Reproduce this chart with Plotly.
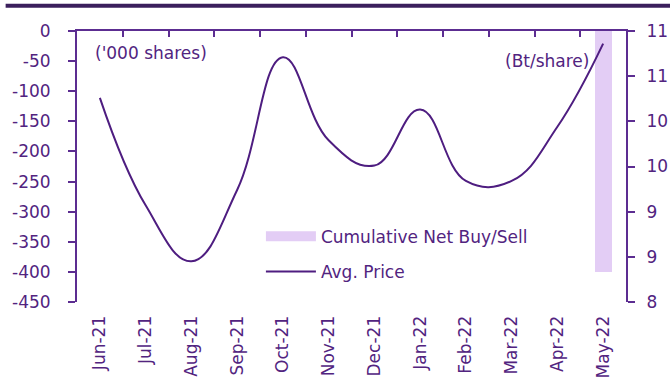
import plotly.graph_objects as go

months = ["Jun-21", "Jul-21", "Aug-21", "Sep-21", "Oct-21", "Nov-21",
          "Dec-21", "Jan-22", "Feb-22", "Mar-22", "Apr-22", "May-22"]
net_buy_sell = [None, None, None, None, None, None,
                None, None, None, None, None, -400]
avg_price = [10.26, 9.07, 8.45, 9.24, 10.71, 9.79,
             9.51, 10.13, 9.34, 9.34, 9.94, 10.86]
left_ticks = [0, -50, -100, -150, -200, -250, -300, -350, -400, -450]
left_labels = ["0", "-50", "-100", "-150", "-200", "-250", "-300",
               "-350", "-400", "-450"]

TXT = "#52247f"
AXC = "#5c2d91"
LINE = "#4e1d80"
BAR = "#e3cdf5"
FONT = "DejaVu Sans"
FS = 17

fig = go.Figure()

# legend swatch for the bar series; also carries the top category axis
fig.add_trace(go.Scatter(
    x=[None], y=[None], xaxis="x2", yaxis="y", mode="lines",
    line=dict(color=BAR, width=10), name="Cumulative Net Buy/Sell",
    legendgroup="a",
))
fig.add_trace(go.Bar(
    x=months, y=net_buy_sell, xaxis="x", yaxis="y",
    marker=dict(color=BAR, line=dict(width=0)), width=0.37,
    showlegend=False, legendgroup="a",
))
fig.add_trace(go.Scatter(
    x=months, y=avg_price, xaxis="x", yaxis="y2", mode="lines",
    line=dict(color=LINE, width=2, shape="spline", smoothing=1.2),
    name="Avg. Price", legendgroup="b",
))

cat_range = [-0.5, len(months) - 0.5]

fig.update_layout(
    width=670, height=388,
    margin=dict(l=77, r=44, t=31, b=86, autoexpand=False),
    paper_bgcolor="white", plot_bgcolor="white",
    font=dict(family=FONT, size=FS, color=TXT),
    bargap=0,
    xaxis=dict(
        type="category", categoryorder="array", categoryarray=months,
        range=cat_range, anchor="y", side="bottom", showline=False,
        showgrid=False, zeroline=False, tickangle=-90, ticks="outside",
        ticklen=6, tickcolor="rgba(0,0,0,0)", automargin=False,
        tickfont=dict(size=FS, color=TXT),
    ),
    xaxis2=dict(
        type="category", categoryorder="array", categoryarray=months,
        range=cat_range, overlaying="x", anchor="y", side="top",
        showticklabels=False, showline=True, linecolor=AXC, linewidth=2,
        ticks="inside", tickson="boundaries", ticklen=6, tickwidth=2,
        tickcolor=AXC, showgrid=False, zeroline=False,
    ),
    yaxis=dict(
        range=[-450, 0], tickvals=left_ticks, ticktext=left_labels,
        showline=True, linecolor=AXC, linewidth=2, ticks="outside",
        ticklen=7, tickwidth=2, tickcolor=AXC, ticklabelstandoff=14,
        showgrid=False, zeroline=False, automargin=False,
        tickfont=dict(size=FS, color=TXT),
    ),
    yaxis2=dict(
        range=[8, 11], dtick=0.5, tickformat=".0f", overlaying="y",
        side="right", anchor="x", showline=True, linecolor=AXC,
        linewidth=2, ticks="outside", ticklen=7, tickwidth=2,
        tickcolor=AXC, ticklabelstandoff=8, showgrid=False,
        zeroline=False, automargin=False,
        tickfont=dict(size=FS, color=TXT),
    ),
    legend=dict(
        x=0.335, y=0.307, xanchor="left", yanchor="top",
        bgcolor="rgba(0,0,0,0)", font=dict(size=FS, color=TXT),
        traceorder="grouped", tracegroupgap=10, itemwidth=50,
    ),
    annotations=[
        dict(text="('000 shares)", xref="paper", yref="paper",
             x=0.03, y=0.92, xanchor="left", yanchor="middle",
             showarrow=False, font=dict(size=FS, color=TXT)),
        dict(text="(Bt/share)", xref="paper", yref="paper",
             x=0.937, y=0.89, xanchor="right", yanchor="middle",
             showarrow=False, font=dict(size=FS, color=TXT)),
    ],
    shapes=[
        dict(type="line", xref="paper", yref="paper",
             x0=-0.13, x1=1.09, y0=1.093, y1=1.093,
             line=dict(color="#3b1f5c", width=4)),
    ],
)

fig.write_html("out.html")
